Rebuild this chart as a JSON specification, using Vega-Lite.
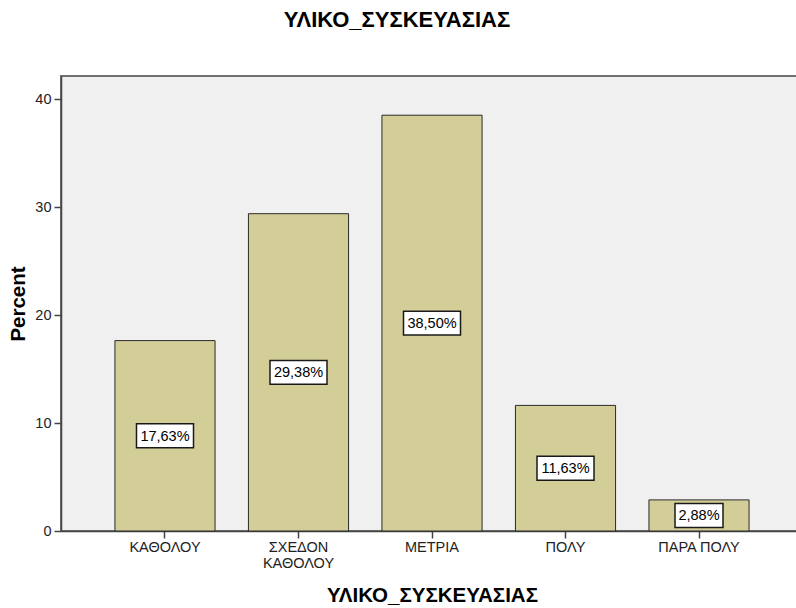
{
  "$schema": "https://vega.github.io/schema/vega-lite/v6.json",
  "autosize": {"type": "none"},
  "padding": {"left": 61, "top": 76, "right": 0, "bottom": 77},
  "width": 742,
  "height": 455,
  "background": "white",
  "title": {
    "text": "ΥΛΙΚΟ_ΣΥΣΚΕΥΑΣΙΑΣ",
    "font": "Liberation Sans",
    "fontSize": 22,
    "fontWeight": "bold",
    "color": "#000000",
    "anchor": "middle",
    "dx": -35,
    "offset": 44
  },
  "data": {
    "values": [
      {"category": "ΚΑΘΟΛΟΥ", "pct": 17.63, "label": "17,63%"},
      {"category": "ΣΧΕΔΟΝ ΚΑΘΟΛΟΥ", "pct": 29.38, "label": "29,38%"},
      {"category": "ΜΕΤΡΙΑ", "pct": 38.5, "label": "38,50%"},
      {"category": "ΠΟΛΥ", "pct": 11.63, "label": "11,63%"},
      {"category": "ΠΑΡΑ ΠΟΛΥ", "pct": 2.88, "label": "2,88%"}
    ]
  },
  "config": {
    "view": {"fill": "#f0f0f0", "stroke": "#707070", "strokeWidth": 2},
    "font": "Liberation Sans",
    "axis": {
      "domainColor": "#444444",
      "domainWidth": 1.5,
      "tickColor": "#444444",
      "tickWidth": 1.5,
      "tickSize": 7,
      "labelColor": "#222222",
      "labelFont": "Liberation Sans",
      "labelFontSize": 14.5,
      "titleFont": "Liberation Sans",
      "titleFontSize": 20.5,
      "titleFontWeight": "bold",
      "titleColor": "#000000",
      "grid": false
    }
  },
  "encoding": {
    "x": {
      "field": "category",
      "type": "nominal",
      "sort": null,
      "scale": {"paddingInner": 0.25, "paddingOuter": 0.404},
      "axis": {
        "title": "ΥΛΙΚΟ_ΣΥΣΚΕΥΑΣΙΑΣ",
        "labelAngle": 0,
        "labelPadding": 2,
        "labelLineHeight": 16,
        "titlePadding": 16,
        "labelExpr": "datum.value == 'ΣΧΕΔΟΝ ΚΑΘΟΛΟΥ' ? ['ΣΧΕΔΟΝ', 'ΚΑΘΟΛΟΥ'] : datum.value"
      }
    }
  },
  "layer": [
    {
      "mark": {"type": "bar", "fill": "#d3ce97", "stroke": "#2a2a2a", "strokeWidth": 1},
      "encoding": {
        "y": {
          "field": "pct",
          "type": "quantitative",
          "scale": {"domain": [0, 42.13], "nice": false},
          "axis": {"title": "Percent", "values": [0, 10, 20, 30, 40], "labelPadding": 3, "titlePadding": 6}
        }
      }
    },
    {
      "transform": [{"calculate": "datum.pct / 2", "as": "mid"}],
      "mark": {"type": "point", "filled": true, "fill": "white", "stroke": "#1a1a1a", "strokeWidth": 1.5, "opacity": 1, "size": 3249},
      "encoding": {
        "y": {"field": "mid", "type": "quantitative"},
        "shape": {
          "condition": {"test": "datum.pct < 10", "value": "M-0.842,-0.42H0.842V0.42H-0.842Z"},
          "value": "M-1,-0.42H1V0.42H-1Z"
        }
      }
    },
    {
      "transform": [{"calculate": "datum.pct / 2", "as": "mid"}],
      "mark": {"type": "text", "font": "Liberation Sans", "fontSize": 14.5, "color": "#000000", "baseline": "middle", "align": "center", "dy": 1},
      "encoding": {
        "y": {"field": "mid", "type": "quantitative"},
        "text": {"field": "label"}
      }
    }
  ]
}
